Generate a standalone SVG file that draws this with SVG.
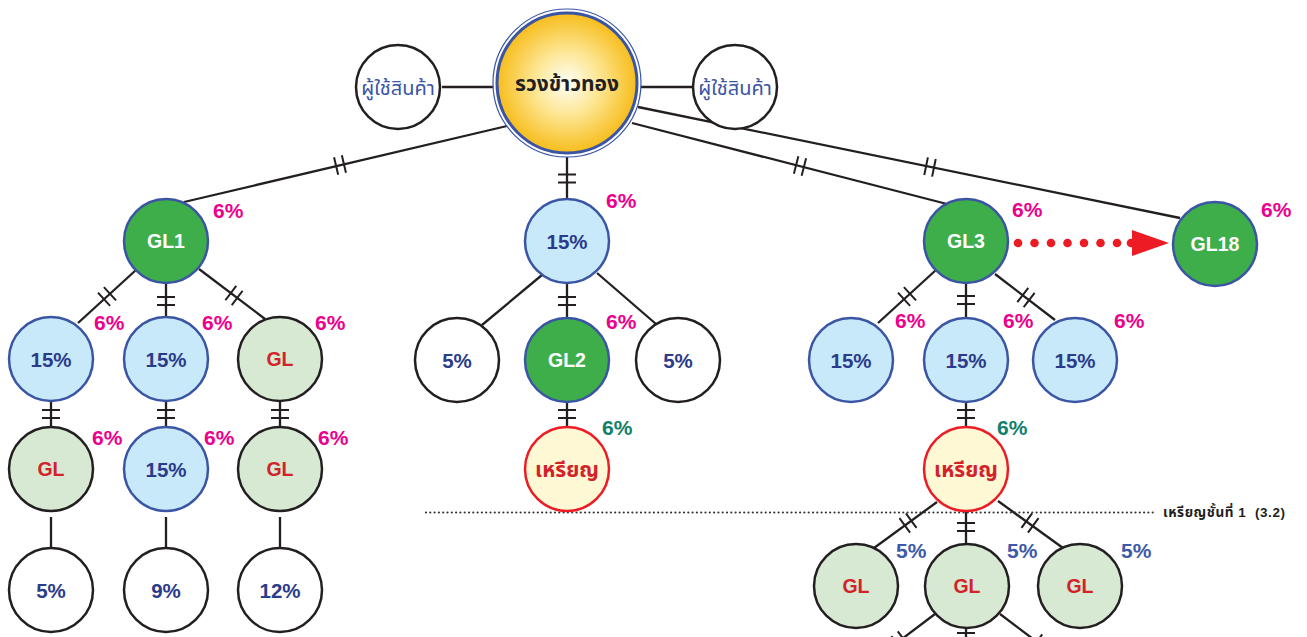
<svg xmlns="http://www.w3.org/2000/svg" xmlns:xlink="http://www.w3.org/1999/xlink" width="1307" height="637" viewBox="0 0 1307 637">
<defs>
<radialGradient id="gold" cx="50%" cy="50%" r="50%">
<stop offset="0" stop-color="#fffef6"/>
<stop offset="0.45" stop-color="#fde796"/>
<stop offset="1" stop-color="#f7bd1c"/>
</radialGradient>
<path id="hash" d="M-4,-9V9M4,-9V9" fill="none" stroke="#231f20" stroke-width="2"/>
</defs>
<style>
.c{stroke:#231f20;stroke-width:2.3;fill:none}
.n{stroke-width:2.5}
.green{fill:#3dae4a;stroke:#3b55a5}
.blue{fill:#c7e9f9;stroke:#3b55a5}
.gl{fill:#d7e8d3;stroke:#231f20}
.white{fill:#fff;stroke:#231f20}
.coin{fill:#fff8d5;stroke:#ed1c24}
text{font-family:"Liberation Sans",Arial,"Noto Sans Thai","Noto Sans",sans-serif;font-weight:bold;text-anchor:middle}
.tw{fill:#fff;font-size:19.5px}
.tn{fill:#2b3b8b;font-size:20.5px}
.tr{fill:#d2232a;font-size:19.5px}
.tc{fill:#d2232a;font-size:21px}
.p{fill:#ec008c;font-size:21px;text-anchor:start}
.g6{fill:#11806a;font-size:21px;text-anchor:start}
.b5{fill:#3d5aa8;font-size:21px;text-anchor:start}
.th{fill:#3b55a5;font-size:20px;font-weight:normal}
</style>

<g id="connectors">
<line class="c" x1="442" y1="87" x2="494" y2="87"/>
<line class="c" x1="640" y1="87" x2="693" y2="87"/>
<line class="c" x1="507" y1="126" x2="184" y2="202"/>
<use xlink:href="#hash" transform="translate(340,165) rotate(-13.2)"/>
<line class="c" x1="567" y1="157" x2="567" y2="198"/>
<use xlink:href="#hash" transform="translate(567,178.5) rotate(90)"/>
<line class="c" x1="632" y1="123" x2="947" y2="204"/>
<use xlink:href="#hash" transform="translate(800,166) rotate(14.4)"/>
<line class="c" x1="638" y1="107" x2="1180" y2="218"/>
<use xlink:href="#hash" transform="translate(930,167) rotate(11.6)"/>

<line class="c" x1="136" y1="270" x2="78" y2="323"/>
<use xlink:href="#hash" transform="translate(107,296.5) rotate(-42.4)"/>
<line class="c" x1="166" y1="284" x2="166" y2="317"/>
<use xlink:href="#hash" transform="translate(166,301) rotate(90)"/>
<line class="c" x1="199" y1="269" x2="265" y2="319"/>
<use xlink:href="#hash" transform="translate(234,295.5) rotate(37.1)"/>
<line class="c" x1="51" y1="402" x2="51" y2="427"/>
<use xlink:href="#hash" transform="translate(51,414) rotate(90)"/>
<line class="c" x1="166" y1="402" x2="166" y2="427"/>
<use xlink:href="#hash" transform="translate(166,414) rotate(90)"/>
<line class="c" x1="280" y1="402" x2="280" y2="427"/>
<use xlink:href="#hash" transform="translate(280,414) rotate(90)"/>
<line class="c" x1="51" y1="517" x2="51" y2="548"/>
<line class="c" x1="166" y1="517" x2="166" y2="548"/>
<line class="c" x1="280" y1="517" x2="280" y2="548"/>

<line class="c" x1="542" y1="275" x2="482" y2="325"/>
<line class="c" x1="567" y1="284" x2="567" y2="318"/>
<use xlink:href="#hash" transform="translate(567,301) rotate(90)"/>
<line class="c" x1="597" y1="273" x2="656" y2="324"/>
<line class="c" x1="567" y1="402" x2="567" y2="427"/>
<use xlink:href="#hash" transform="translate(567,414) rotate(90)"/>

<line class="c" x1="936" y1="270" x2="878" y2="323"/>
<use xlink:href="#hash" transform="translate(907,296.5) rotate(-42.4)"/>
<line class="c" x1="966" y1="283" x2="966" y2="317"/>
<use xlink:href="#hash" transform="translate(966,300) rotate(90)"/>
<line class="c" x1="995" y1="274" x2="1055" y2="320"/>
<use xlink:href="#hash" transform="translate(1026,297.5) rotate(37.5)"/>
<line class="c" x1="966" y1="402" x2="966" y2="427"/>
<use xlink:href="#hash" transform="translate(966,414) rotate(90)"/>

<line class="c" x1="937" y1="502" x2="874" y2="548"/>
<use xlink:href="#hash" transform="translate(908,523) rotate(-36.1)"/>
<line class="c" x1="966" y1="511" x2="966" y2="544"/>
<use xlink:href="#hash" transform="translate(966,527) rotate(90)"/>
<line class="c" x1="998" y1="501" x2="1063" y2="548"/>
<use xlink:href="#hash" transform="translate(1030,523) rotate(35.9)"/>

<line class="c" x1="935" y1="614" x2="890" y2="648"/>
<use xlink:href="#hash" transform="translate(900,641) rotate(-37)"/>
<line class="c" x1="966" y1="628" x2="966" y2="650"/>
<use xlink:href="#hash" transform="translate(966,637) rotate(90)"/>
<line class="c" x1="1000" y1="614" x2="1045" y2="648"/>
<use xlink:href="#hash" transform="translate(1040,644) rotate(37)"/>

<line x1="426" y1="512.5" x2="1154" y2="512.5" stroke="#333" stroke-width="2.2" stroke-linecap="round" stroke-dasharray="0 4.3"/>

<g fill="#ed1c24">
<circle cx="1018" cy="243" r="4.3"/><circle cx="1034.5" cy="243" r="4.3"/><circle cx="1051" cy="243" r="4.3"/><circle cx="1067.5" cy="243" r="4.3"/><circle cx="1084" cy="243" r="4.3"/><circle cx="1100.5" cy="243" r="4.3"/><circle cx="1117" cy="243" r="4.3"/><circle cx="1131" cy="243" r="4.3"/>
<path d="M1132,230 L1169,243 L1132,256 Z"/>
</g>
</g>

<g id="center"><circle cx="567" cy="83" r="74" fill="#fff" stroke="#3b55a5" stroke-width="1.2"/><circle cx="567" cy="83" r="70" fill="url(#gold)" stroke="#3b55a5" stroke-width="3"/><text x="567" y="91" style="fill:#231f20;font-size:21px">รวงข้าวทอง</text></g>
<g id="user-left"><circle class="n white" cx="398" cy="87" r="42"/><text class="th" x="398" y="95">ผู้ใช้สินค้า</text></g>
<g id="user-right"><circle class="n white" cx="735" cy="87" r="42"/><text class="th" x="735" y="95">ผู้ใช้สินค้า</text></g>

<g id="gl1"><circle class="n green" cx="166" cy="241" r="42"/><text class="tw" x="166" y="248">GL1</text><text class="p" x="213" y="218">6%</text></g>
<g id="l-15a"><circle class="n blue" cx="51" cy="359" r="42"/><text class="tn" x="51" y="367">15%</text><text class="p" x="94" y="330">6%</text></g>
<g id="l-15b"><circle class="n blue" cx="166" cy="359" r="42"/><text class="tn" x="166" y="367">15%</text><text class="p" x="202" y="330">6%</text></g>
<g id="l-gl"><circle class="n gl" cx="280" cy="359" r="42"/><text class="tr" x="280" y="366">GL</text><text class="p" x="315" y="330">6%</text></g>
<g id="l-gl2"><circle class="n gl" cx="51" cy="469" r="42"/><text class="tr" x="51" y="476">GL</text><text class="p" x="92" y="445">6%</text></g>
<g id="l-15c"><circle class="n blue" cx="166" cy="469" r="42"/><text class="tn" x="166" y="477">15%</text><text class="p" x="204" y="445">6%</text></g>
<g id="l-gl3"><circle class="n gl" cx="280" cy="469" r="42"/><text class="tr" x="280" y="476">GL</text><text class="p" x="318" y="445">6%</text></g>
<g id="l-5"><circle class="n white" cx="51" cy="590" r="42"/><text class="tn" x="51" y="598">5%</text></g>
<g id="l-9"><circle class="n white" cx="166" cy="590" r="42"/><text class="tn" x="166" y="598">9%</text></g>
<g id="l-12"><circle class="n white" cx="280" cy="590" r="42"/><text class="tn" x="280" y="598">12%</text></g>

<g id="m-15"><circle class="n blue" cx="567" cy="241" r="42"/><text class="tn" x="567" y="249">15%</text><text class="p" x="606" y="208">6%</text></g>
<g id="m-5a"><circle class="n white" cx="457" cy="360" r="42"/><text class="tn" x="457" y="368">5%</text></g>
<g id="gl2"><circle class="n green" cx="567" cy="360" r="42"/><text class="tw" x="567" y="367">GL2</text><text class="p" x="606" y="329">6%</text></g>
<g id="m-5b"><circle class="n white" cx="678" cy="360" r="42"/><text class="tn" x="678" y="368">5%</text></g>
<g id="m-coin"><circle class="n coin" cx="567" cy="469" r="42"/><text class="tc" x="567" y="477">เหรียญ</text><text class="g6" x="602" y="435">6%</text></g>

<g id="gl3"><circle class="n green" cx="966" cy="241" r="42"/><text class="tw" x="966" y="248">GL3</text><text class="p" x="1012" y="217">6%</text></g>
<g id="gl18"><circle class="n green" cx="1215" cy="244" r="42"/><text class="tw" x="1215" y="251">GL18</text><text class="p" x="1261" y="217">6%</text></g>
<g id="r-15a"><circle class="n blue" cx="851" cy="360" r="42"/><text class="tn" x="851" y="368">15%</text><text class="p" x="895" y="328">6%</text></g>
<g id="r-15b"><circle class="n blue" cx="966" cy="360" r="42"/><text class="tn" x="966" y="368">15%</text><text class="p" x="1003" y="328">6%</text></g>
<g id="r-15c"><circle class="n blue" cx="1075" cy="360" r="42"/><text class="tn" x="1075" y="368">15%</text><text class="p" x="1114" y="328">6%</text></g>
<g id="r-coin"><circle class="n coin" cx="966" cy="469" r="42"/><text class="tc" x="966" y="477">เหรียญ</text><text class="g6" x="997" y="435">6%</text></g>
<g id="r-gla"><circle class="n gl" cx="856" cy="586" r="42"/><text class="tr" x="856" y="593">GL</text><text class="b5" x="896" y="558">5%</text></g>
<g id="r-glb"><circle class="n gl" cx="967" cy="586" r="42"/><text class="tr" x="967" y="593">GL</text><text class="b5" x="1007" y="558">5%</text></g>
<g id="r-glc"><circle class="n gl" cx="1080" cy="586" r="42"/><text class="tr" x="1080" y="593">GL</text><text class="b5" x="1121" y="558">5%</text></g>

<g id="level-label"><text x="1163" y="517" xml:space="preserve" textLength="122" lengthAdjust="spacing" style="fill:#231f20;font-size:13.5px;text-anchor:start">เหรียญชั้นที่ 1  (3.2)</text></g>
</svg>
